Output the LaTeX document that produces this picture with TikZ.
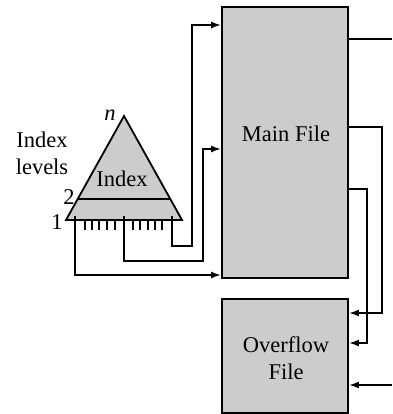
\documentclass[tikz,border=0pt]{standalone}
\usepackage{fontspec}
\setmainfont{Liberation Serif}
\usetikzlibrary{arrows.meta}
\begin{document}
\begin{tikzpicture}[x=1pt,y=-1pt,
  ln/.style={line width=1.8pt},
  arr/.style={ln,-{Latex[length=10pt,width=7pt]}},
  filebox/.style={draw,line width=1.8pt,fill=black!20,inner sep=0pt,minimum width=126pt},
  lbl/.style={font=\fontsize{22.5}{27}\selectfont,inner sep=0pt,anchor=base}]
\useasboundingbox (0,0) rectangle (392,414);
% files
\node[filebox,minimum height=271pt] (main) at (285,142.5) {};
\node[filebox,minimum height=114pt] (over) at (285,356) {};
\node[lbl] (mainlbl) at (286,142) {Main File};
\node[lbl] (ovl1) at (286,352) {Overflow};
\node[lbl] (ovl2) at (286,379) {File};
% index triangle
\draw[ln,fill=black!20,line join=miter] (66,220) -- (124,116) -- (182,220) -- cycle;
\draw[ln] (77.7,199) -- (170.3,199);
\foreach \x in {85,92,99,107,115,133,140,148,155,162}
  \draw[line width=1.2pt] (\x,220) -- (\x,230);
\node[lbl] (idx) at (122,186) {Index};
\node[lbl] (nlbl) at (110,121) {\itshape n};
\node[lbl] (two) at (69,204) {2};
\node[lbl] (one) at (57,229) {1};
\node[font=\fontsize{22.5}{27}\selectfont,inner sep=0pt,align=center] (levels) at (42,153) {Index\\levels};
\coordinate (p1) at (75,216);
\coordinate (p2) at (124,216);
\coordinate (p3) at (172,216);
\coordinate (e1) at (392,39);
\coordinate (e2) at (392,385);
% index to main
\draw[arr] (p3) |- (192,246) |- (main.west |- 0,25);
\draw[arr] (p2) |- (203,261) |- (main.west |- 0,149);
\draw[arr] (p1) |- (main.west |- 0,275);
% right side
\draw[ln] (main.east |- 0,39) -- (e1);
\draw[arr] (main.east |- 0,127) -| (382,313) -- (over.east |- 0,313);
\draw[arr] (main.east |- 0,189) -| (367,343) -- (over.east |- 0,343);
\draw[arr] (e2) -- (over.east |- 0,385);
\end{tikzpicture}
\end{document}
